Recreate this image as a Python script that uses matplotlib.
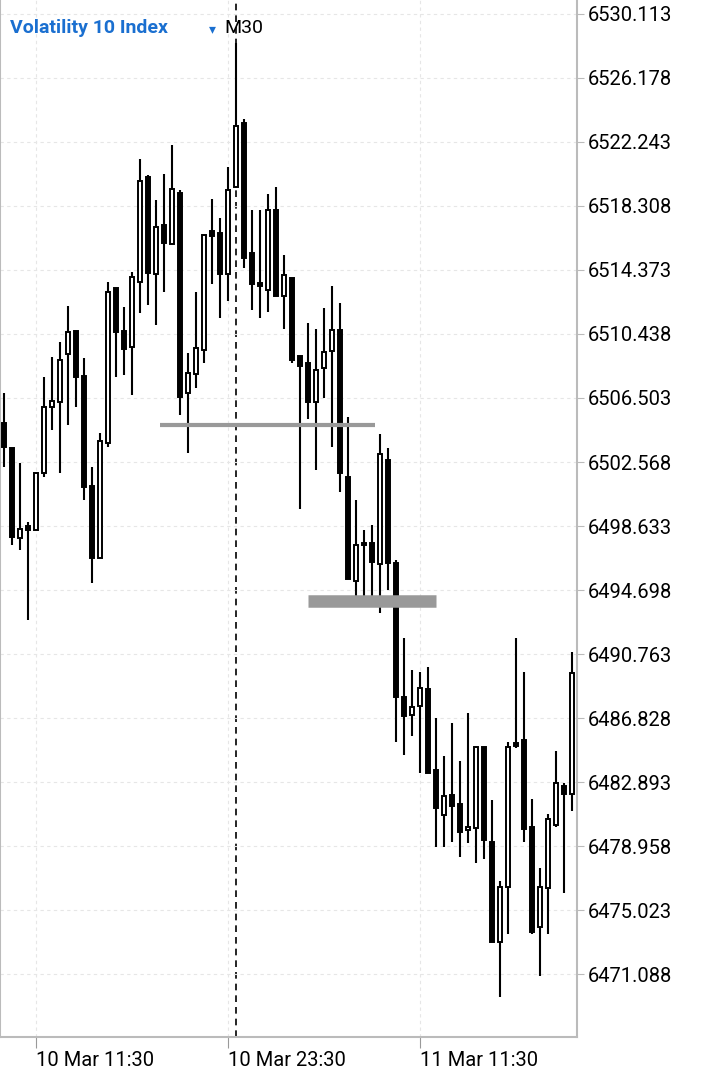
import matplotlib
matplotlib.use("Agg")
import matplotlib.pyplot as plt
import numpy as np

opens = [6504.96,6503.43,6497.90,6498.63,6498.39,6501.89,6505.95,6506.26,6509.21,6510.62,
         6507.85,6501.09,6496.66,6503.73,6513.26,6510.62,6509.64,6513.63,6520.09,6514.12,
         6517.14,6515.97,6519.10,6506.81,6507.98,6509.45,6516.77,6516.65,6514.12,6519.47,
         6523.41,6515.42,6513.57,6513.14,6518.06,6512.77,6513.88,6509.08,6508.65,6506.26,
         6508.35,6509.39,6510.68,6501.64,6495.25,6497.59,6497.59,6496.30,6502.69,6496.36,
         6488.12,6487.01,6487.57,6488.61,6483.63,6480.86,6482.09,6481.54,6479.94,6480.06,
         6485.04,6479.20,6473.06,6476.44,6485.29,6485.47,6480.13,6473.98,6476.38,6480.25,
         6482.65,6482.16]
highs = [6506.81,6503.43,6502.50,6498.88,6501.89,6507.79,6509.02,6509.94,6512.16,6510.62,
         6508.96,6502.26,6504.35,6513.63,6513.26,6512.10,6514.25,6521.19,6520.21,6518.67,
         6520.27,6522.06,6519.29,6509.27,6513.02,6516.52,6518.74,6517.57,6520.70,6528.33,
         6523.65,6518.06,6518.06,6519.04,6519.47,6515.29,6513.88,6509.08,6511.11,6510.74,
         6512.03,6513.39,6512.34,6505.33,6500.23,6498.39,6498.69,6504.29,6503.43,6496.54,
         6491.75,6489.78,6489.66,6489.96,6486.83,6484.49,6486.52,6484.18,6487.13,6485.04,
         6485.04,6481.79,6476.81,6485.35,6491.75,6489.66,6481.85,6477.61,6480.93,6484.80,
         6482.83,6490.89]
lows = [6502.26,6497.46,6497.16,6492.85,6498.39,6501.64,6504.53,6501.89,6504.84,6505.95,
        6500.23,6495.13,6496.66,6503.49,6507.79,6507.91,6506.69,6511.73,6512.22,6510.99,
        6513.02,6515.97,6505.46,6503.12,6507.12,6508.65,6513.51,6511.42,6512.46,6519.47,
        6514.49,6511.91,6511.42,6511.79,6512.77,6510.74,6508.65,6499.68,6505.21,6502.07,
        6506.50,6503.49,6500.72,6495.37,6494.02,6494.02,6494.02,6493.28,6494.70,6485.35,
        6484.55,6485.72,6483.45,6483.45,6478.90,6478.90,6479.20,6478.28,6479.14,6477.91,
        6478.16,6473.06,6469.67,6473.55,6484.98,6479.20,6473.55,6470.97,6473.55,6480.13,
        6476.07,6481.11]
closes = [6503.49,6497.96,6498.45,6498.39,6501.89,6505.95,6506.32,6508.84,6510.56,6507.79,
          6501.03,6496.66,6503.86,6513.02,6510.56,6509.51,6513.94,6519.84,6514.19,6517.01,
          6516.03,6519.35,6506.56,6508.04,6509.57,6516.52,6516.46,6514.12,6519.29,6523.22,
          6515.11,6513.51,6513.39,6518.06,6512.77,6514.06,6508.84,6508.47,6506.26,6508.22,
          6509.33,6510.68,6501.89,6495.37,6497.46,6497.46,6496.42,6503.06,6496.36,6488.12,
          6486.95,6487.50,6488.67,6483.45,6481.29,6482.03,6481.42,6479.82,6480.13,6485.04,
          6479.33,6473.06,6476.44,6485.04,6485.11,6480.00,6473.67,6476.44,6480.62,6482.83,
          6482.16,6489.59]
price_ticks = [6530.113,6526.178,6522.243,6518.308,6514.373,6510.438,6506.503,6502.568,
               6498.633,6494.698,6490.763,6486.828,6482.893,6478.958,6475.023,6471.088]
time_ticks = [4, 28, 52]
time_labels = ["10 Mar 11:30", "10 Mar 23:30", "11 Mar 11:30"]
level_lines = [(6504.84, 19.5, 46.4), (6494.02, 38, 54)]

plt.rcParams['font.family'] = ['Roboto', 'DejaVu Sans']
fig = plt.figure(figsize=(7.2, 10.82), dpi=100)
ax = fig.add_axes([0, 45/1082, 577/720, 1037/1082])
n = len(opens)
x = np.arange(n)
o = np.array(opens); c = np.array(closes)
bull = c >= o
ax.vlines(x, lows, highs, color='black', lw=1.5, zorder=2)
bot = np.minimum(o, c); h = np.maximum(np.abs(c - o), 0.15)
ax.bar(x, h, bottom=bot, width=0.62, color=np.where(bull, 'white', 'black'),
       edgecolor='black', linewidth=1.4, zorder=3)
ax.axvline(29, color='black', ls=(0, (4, 3)), lw=1.2, zorder=1)
ax.hlines(level_lines[0][0], level_lines[0][1], level_lines[0][2], color='#999999', lw=3, zorder=4)
ax.hlines(level_lines[1][0], level_lines[1][1], level_lines[1][2], color='#999999', lw=9, zorder=4)

ax.set_xlim(-0.5, 71.625)
ax.set_ylim(6467.22, 6530.97)
ax.yaxis.tick_right()
ax.set_yticks(price_ticks)
ax.set_yticklabels([f"{v:.3f}" for v in price_ticks], fontsize=14.5)
ax.tick_params(axis='y', length=5, pad=3, color='#bbbbbb')
ax.set_xticks(time_ticks)
ax.set_xticklabels(time_labels, fontsize=14.5, ha='left')
ax.tick_params(axis='x', length=8, pad=2, color='#999999')
ax.grid(True, color='#e6e6e6', ls=(0, (3, 3)), lw=0.8, zorder=0)
for s in ['top']:
    ax.spines[s].set_visible(False)
for s in ['left', 'right', 'bottom']:
    ax.spines[s].set_color('#bbbbbb'); ax.spines[s].set_linewidth(1.5)

fig.text(10/720, 1-28/1082, "Volatility 10 Index", color='#1a6fd0', fontsize=14,
         fontweight='bold', va='center')
fig.text(209/720, 1-29/1082, "▾", color='#1a6fd0', fontsize=10, va='center',
         family='DejaVu Sans')
fig.text(224/720, 1-28/1082, "M30", color='black', fontsize=14, va='center')
fig.savefig("out.png", dpi=100)
